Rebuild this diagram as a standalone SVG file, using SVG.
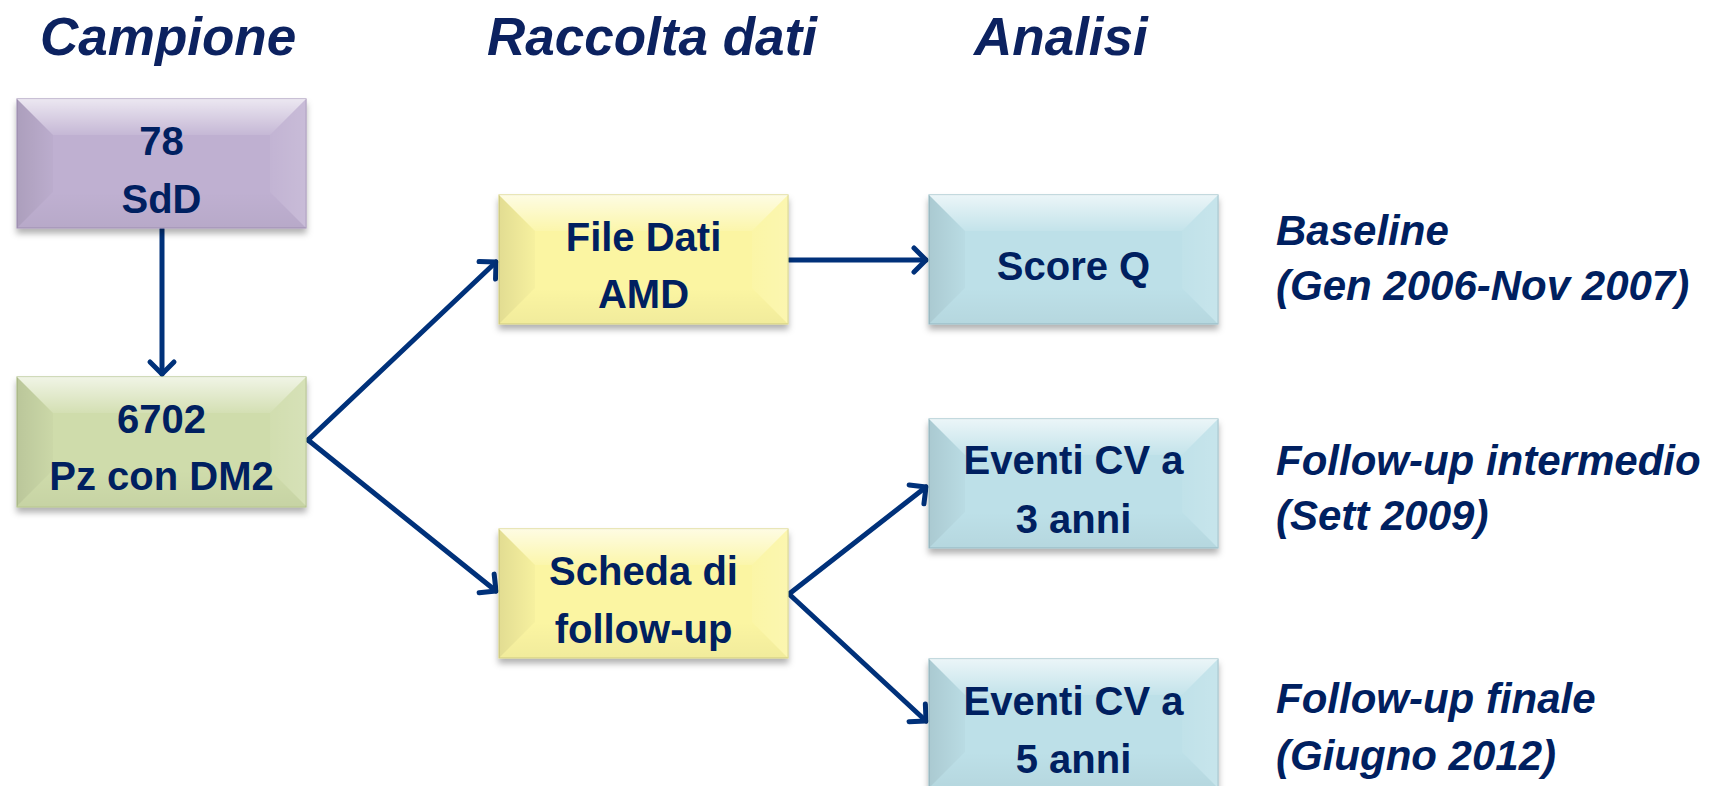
<svg xmlns="http://www.w3.org/2000/svg" width="1716" height="786" viewBox="0 0 1716 786">
  <defs>
    <style>
      .hdr { font-family: "Liberation Sans", Arial, sans-serif; font-weight: bold; font-style: italic; font-size: 53px; fill: #0c2260; }
      .lbl { font-family: "Liberation Sans", Arial, sans-serif; font-weight: bold; font-size: 40px; fill: #002060; text-anchor: middle; }
      .note { font-family: "Liberation Sans", Arial, sans-serif; font-weight: bold; font-style: italic; font-size: 42px; fill: #002060; }
      .base { filter: url(#shadow); stroke-width: 1.2; }
      .purple { fill: #bfb0d1; stroke: #a898bb; }
      .green { fill: #cfdcab; stroke: #b4c38e; }
      .yellow { fill: #fbf5a2; stroke: #ddd78a; }
      .blue { fill: #bde0e8; stroke: #9fc2cb; }
      .edge { fill: none; stroke: #00317a; stroke-width: 5; stroke-linecap: round; stroke-linejoin: round; marker-end: url(#head); }
    </style>
    <filter id="shadow" x="-10%" y="-10%" width="120%" height="140%">
      <feDropShadow dx="0" dy="5" stdDeviation="3" flood-color="#000" flood-opacity="0.3"/>
    </filter>
    <linearGradient id="gTop" x1="0" y1="0" x2="0" y2="1">
      <stop offset="0" stop-color="#fff" stop-opacity="0.7"/>
      <stop offset="1" stop-color="#fff" stop-opacity="0.1"/>
    </linearGradient>
    <linearGradient id="gLeft" x1="0" y1="0" x2="1" y2="0">
      <stop offset="0" stop-color="#000" stop-opacity="0.1"/>
      <stop offset="1" stop-color="#000" stop-opacity="0.02"/>
    </linearGradient>
    <linearGradient id="gRight" x1="0" y1="0" x2="1" y2="0">
      <stop offset="0" stop-color="#fff" stop-opacity="0.05"/>
      <stop offset="1" stop-color="#fff" stop-opacity="0.15"/>
    </linearGradient>
    <linearGradient id="gBot" x1="0" y1="0" x2="0" y2="1">
      <stop offset="0" stop-color="#000" stop-opacity="0"/>
      <stop offset="1" stop-color="#000" stop-opacity="0.04"/>
    </linearGradient>
    <!-- bevelled facets of a 289x129 box -->
    <g id="bevel">
      <polygon points="0,0 289,0 253,36 36,36" fill="url(#gTop)"/>
      <polygon points="0,0 36,36 36,93 0,129" fill="url(#gLeft)"/>
      <polygon points="289,0 289,129 253,93 253,36" fill="url(#gRight)"/>
      <polygon points="0,129 36,93 253,93 289,129" fill="url(#gBot)"/>
    </g>
    <marker id="head" markerUnits="userSpaceOnUse" viewBox="-20 -20 30 40" refX="0" refY="0" markerWidth="30" markerHeight="40" orient="auto" overflow="visible">
      <path d="M-12,-12 L0,0 L-12,12" fill="none" stroke="#00317a" stroke-width="5" stroke-linecap="round" stroke-linejoin="round"/>
    </marker>
  </defs>

  <rect width="1716" height="786" fill="#fff"/>

  <!-- column headings -->
  <text class="hdr" x="40" y="55">Campione</text>
  <text class="hdr" x="487" y="55">Raccolta dati</text>
  <text class="hdr" x="974" y="55">Analisi</text>

  <!-- connectors -->
  <g id="connectors">
    <line class="edge" x1="162" y1="229" x2="162" y2="374"/>
    <line class="edge" x1="308" y1="440" x2="496" y2="262"/>
    <line class="edge" x1="308" y1="440" x2="496" y2="591"/>
    <line class="edge" x1="789" y1="260" x2="926" y2="260"/>
    <line class="edge" x1="789" y1="594" x2="926" y2="487"/>
    <line class="edge" x1="789" y1="594" x2="926" y2="721"/>
  </g>

  <!-- nodes -->
  <g id="n-sdd">
    <rect class="base purple" x="17" y="99" width="289" height="129"/>
    <use href="#bevel" x="17" y="99"/>
    <text class="lbl" x="161.5" y="155">78</text>
    <text class="lbl" x="161.5" y="213">SdD</text>
  </g>
  <g id="n-pz">
    <rect class="base green" x="17" y="377" width="289" height="130"/>
    <use href="#bevel" x="17" y="377"/>
    <text class="lbl" x="161.5" y="433">6702</text>
    <text class="lbl" x="161.5" y="490">Pz con DM2</text>
  </g>
  <g id="n-file">
    <rect class="base yellow" x="499" y="195" width="289" height="129"/>
    <use href="#bevel" x="499" y="195"/>
    <text class="lbl" x="643.5" y="251">File Dati</text>
    <text class="lbl" x="643.5" y="308">AMD</text>
  </g>
  <g id="n-scheda">
    <rect class="base yellow" x="499" y="529" width="289" height="129"/>
    <use href="#bevel" x="499" y="529"/>
    <text class="lbl" x="643.5" y="585">Scheda di</text>
    <text class="lbl" x="643.5" y="643">follow-up</text>
  </g>
  <g id="n-score">
    <rect class="base blue" x="929" y="195" width="289" height="129"/>
    <use href="#bevel" x="929" y="195"/>
    <text class="lbl" x="1073.5" y="280">Score Q</text>
  </g>
  <g id="n-cv3">
    <rect class="base blue" x="929" y="419" width="289" height="129"/>
    <use href="#bevel" x="929" y="419"/>
    <text class="lbl" x="1073.5" y="474">Eventi CV a</text>
    <text class="lbl" x="1073.5" y="533">3 anni</text>
  </g>
  <g id="n-cv5">
    <rect class="base blue" x="929" y="659" width="289" height="129"/>
    <use href="#bevel" x="929" y="659"/>
    <text class="lbl" x="1073.5" y="715">Eventi CV a</text>
    <text class="lbl" x="1073.5" y="773">5 anni</text>
  </g>

  <!-- timing notes -->
  <text class="note" x="1276" y="245">Baseline</text>
  <text class="note" x="1276" y="300">(Gen 2006-Nov 2007)</text>
  <text class="note" x="1276" y="475">Follow-up intermedio</text>
  <text class="note" x="1276" y="530">(Sett 2009)</text>
  <text class="note" x="1276" y="713">Follow-up finale</text>
  <text class="note" x="1276" y="770">(Giugno 2012)</text>
</svg>
